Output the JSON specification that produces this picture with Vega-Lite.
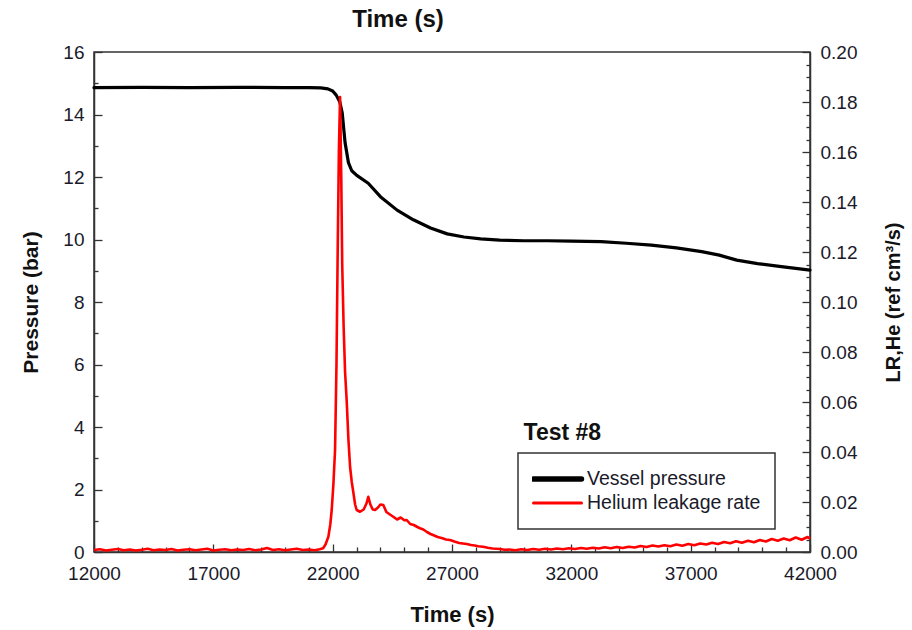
{
  "$schema": "https://vega.github.io/schema/vega-lite/v6.json",
  "width": 716,
  "height": 500,
  "autosize": {"type": "none"},
  "padding": {"left": 94, "top": 52, "right": 102, "bottom": 78},
  "background": "white",
  "config": {
    "font": "Liberation Sans",
    "view": {"stroke": "#333", "strokeWidth": 1.5},
    "legend": {"strokeWidth": 1.5},
    "axis": {
      "grid": false,
      "domainColor": "#333",
      "domainWidth": 1.5,
      "tickColor": "#333",
      "tickWidth": 1.3,
      "labelFont": "Liberation Sans",
      "labelFontSize": 19,
      "labelColor": "#1a1a2a",
      "labelOverlap": false,
      "labelFlush": false,
      "labelBound": false,
      "titleFont": "Liberation Sans",
      "titleFontWeight": "bold",
      "titleColor": "#111",
      "titleFontSize": 22
    }
  },
  "title": {
    "text": "Time (s)",
    "font": "Liberation Sans",
    "fontSize": 24,
    "fontWeight": "bold",
    "color": "#111",
    "anchor": "middle",
    "dx": -54,
    "offset": 11
  },
  "datasets": {
    "pressure": [
      {"t": 12000, "p": 14.86}, {"t": 14000, "p": 14.87}, {"t": 16000, "p": 14.86}, {"t": 18000, "p": 14.87},
      {"t": 20000, "p": 14.86}, {"t": 21000, "p": 14.86}, {"t": 21500, "p": 14.85}, {"t": 21800, "p": 14.82},
      {"t": 22000, "p": 14.75}, {"t": 22150, "p": 14.62}, {"t": 22300, "p": 14.4}, {"t": 22400, "p": 14.05},
      {"t": 22520, "p": 13.1}, {"t": 22660, "p": 12.46}, {"t": 22800, "p": 12.2}, {"t": 23010, "p": 12.05},
      {"t": 23490, "p": 11.8}, {"t": 24000, "p": 11.37}, {"t": 24700, "p": 10.94}, {"t": 25380, "p": 10.63},
      {"t": 26100, "p": 10.37}, {"t": 26800, "p": 10.18}, {"t": 27500, "p": 10.08}, {"t": 28200, "p": 10.02},
      {"t": 29000, "p": 9.98}, {"t": 30000, "p": 9.96}, {"t": 31000, "p": 9.96}, {"t": 32000, "p": 9.95},
      {"t": 33250, "p": 9.93}, {"t": 34300, "p": 9.88}, {"t": 35350, "p": 9.82}, {"t": 36400, "p": 9.73},
      {"t": 37460, "p": 9.61}, {"t": 38200, "p": 9.5}, {"t": 38930, "p": 9.34}, {"t": 39800, "p": 9.23},
      {"t": 40800, "p": 9.13}, {"t": 42000, "p": 9.02}
    ],
    "helium": [
      {"t": 12000, "l": 0.0008}, {"t": 12250, "l": 0.0011}, {"t": 12500, "l": 0.0006}, {"t": 12750, "l": 0.0009},
      {"t": 13000, "l": 0.0012}, {"t": 13250, "l": 0.0007}, {"t": 13500, "l": 0.001}, {"t": 13750, "l": 0.0006},
      {"t": 14000, "l": 0.0009}, {"t": 14250, "l": 0.0013}, {"t": 14500, "l": 0.0007}, {"t": 14750, "l": 0.001},
      {"t": 15000, "l": 0.0008}, {"t": 15250, "l": 0.0012}, {"t": 15500, "l": 0.0006}, {"t": 15750, "l": 0.0009},
      {"t": 16000, "l": 0.0011}, {"t": 16250, "l": 0.0007}, {"t": 16500, "l": 0.001}, {"t": 16750, "l": 0.0013},
      {"t": 17000, "l": 0.0006}, {"t": 17250, "l": 0.0009}, {"t": 17500, "l": 0.0011}, {"t": 17750, "l": 0.0007},
      {"t": 18000, "l": 0.001}, {"t": 18250, "l": 0.0008}, {"t": 18500, "l": 0.0012}, {"t": 18750, "l": 0.0007},
      {"t": 19000, "l": 0.001}, {"t": 19250, "l": 0.0016}, {"t": 19500, "l": 0.0008}, {"t": 19750, "l": 0.0011},
      {"t": 20000, "l": 0.0007}, {"t": 20250, "l": 0.001}, {"t": 20500, "l": 0.0013}, {"t": 20750, "l": 0.0008},
      {"t": 21000, "l": 0.001}, {"t": 21250, "l": 0.0007}, {"t": 21450, "l": 0.0011}, {"t": 21600, "l": 0.0015},
      {"t": 21700, "l": 0.003}, {"t": 21820, "l": 0.0061}, {"t": 21900, "l": 0.011}, {"t": 21960, "l": 0.0168},
      {"t": 22030, "l": 0.027}, {"t": 22100, "l": 0.0408}, {"t": 22160, "l": 0.075}, {"t": 22210, "l": 0.12},
      {"t": 22260, "l": 0.16}, {"t": 22310, "l": 0.182}, {"t": 22360, "l": 0.15}, {"t": 22400, "l": 0.115},
      {"t": 22460, "l": 0.09}, {"t": 22520, "l": 0.072}, {"t": 22590, "l": 0.06}, {"t": 22660, "l": 0.045},
      {"t": 22730, "l": 0.034}, {"t": 22800, "l": 0.028}, {"t": 22870, "l": 0.0236}, {"t": 22940, "l": 0.019},
      {"t": 23007, "l": 0.0168}, {"t": 23145, "l": 0.0161}, {"t": 23300, "l": 0.017}, {"t": 23420, "l": 0.0195},
      {"t": 23493, "l": 0.0221}, {"t": 23580, "l": 0.019}, {"t": 23680, "l": 0.017}, {"t": 23774, "l": 0.0168},
      {"t": 23900, "l": 0.0178}, {"t": 24000, "l": 0.019}, {"t": 24122, "l": 0.0188}, {"t": 24250, "l": 0.016},
      {"t": 24400, "l": 0.015}, {"t": 24541, "l": 0.0141}, {"t": 24700, "l": 0.013}, {"t": 24850, "l": 0.0138},
      {"t": 25000, "l": 0.0127}, {"t": 25102, "l": 0.0128}, {"t": 25250, "l": 0.0112}, {"t": 25400, "l": 0.0108},
      {"t": 25550, "l": 0.01}, {"t": 25659, "l": 0.0095}, {"t": 25800, "l": 0.009}, {"t": 25950, "l": 0.008},
      {"t": 26100, "l": 0.0072}, {"t": 26204, "l": 0.0068}, {"t": 26400, "l": 0.006}, {"t": 26600, "l": 0.0055},
      {"t": 26750, "l": 0.005}, {"t": 26916, "l": 0.0048}, {"t": 27100, "l": 0.0042}, {"t": 27300, "l": 0.0036},
      {"t": 27450, "l": 0.0034}, {"t": 27616, "l": 0.0032}, {"t": 27800, "l": 0.0028}, {"t": 27950, "l": 0.0026},
      {"t": 28100, "l": 0.0023}, {"t": 28299, "l": 0.0021}, {"t": 28500, "l": 0.0017}, {"t": 28700, "l": 0.0014},
      {"t": 28850, "l": 0.0013}, {"t": 29011, "l": 0.0012}, {"t": 29200, "l": 0.0009}, {"t": 29400, "l": 0.001},
      {"t": 29650, "l": 0.0007}, {"t": 29900, "l": 0.0011}, {"t": 30150, "l": 0.0008}, {"t": 30400, "l": 0.0012},
      {"t": 30650, "l": 0.0009}, {"t": 30900, "l": 0.0013}, {"t": 31150, "l": 0.001}, {"t": 31400, "l": 0.0014},
      {"t": 31650, "l": 0.0011}, {"t": 31900, "l": 0.0015}, {"t": 32150, "l": 0.0012}, {"t": 32400, "l": 0.0016},
      {"t": 32650, "l": 0.0013}, {"t": 32900, "l": 0.0017}, {"t": 33150, "l": 0.0014}, {"t": 33400, "l": 0.0019},
      {"t": 33650, "l": 0.0015}, {"t": 33900, "l": 0.002}, {"t": 34150, "l": 0.0016}, {"t": 34400, "l": 0.0021},
      {"t": 34650, "l": 0.0018}, {"t": 34900, "l": 0.0024}, {"t": 35150, "l": 0.002}, {"t": 35400, "l": 0.0026},
      {"t": 35650, "l": 0.0022}, {"t": 35900, "l": 0.0027}, {"t": 36150, "l": 0.0023}, {"t": 36400, "l": 0.003},
      {"t": 36650, "l": 0.0025}, {"t": 36900, "l": 0.0032}, {"t": 37150, "l": 0.0027}, {"t": 37400, "l": 0.0034},
      {"t": 37650, "l": 0.003}, {"t": 37900, "l": 0.0037}, {"t": 38150, "l": 0.0032}, {"t": 38400, "l": 0.004},
      {"t": 38650, "l": 0.0035}, {"t": 38900, "l": 0.0043}, {"t": 39150, "l": 0.0037}, {"t": 39400, "l": 0.0045},
      {"t": 39650, "l": 0.0039}, {"t": 39900, "l": 0.0048}, {"t": 40150, "l": 0.0042}, {"t": 40400, "l": 0.0052},
      {"t": 40650, "l": 0.0045}, {"t": 40900, "l": 0.0054}, {"t": 41150, "l": 0.0047}, {"t": 41400, "l": 0.0058},
      {"t": 41650, "l": 0.0049}, {"t": 41900, "l": 0.006}, {"t": 42000, "l": 0.0053}
    ],
    "note": [{"t": 30000, "p": 3.81, "label": "Test #8"}]
  },
  "layer": [
    {
      "data": {"name": "pressure"},
      "mark": {"type": "line", "strokeWidth": 3.2, "strokeJoin": "round", "strokeCap": "round"},
      "encoding": {
        "x": {
          "field": "t", "type": "quantitative",
          "scale": {"domain": [12000, 42000], "nice": false, "zero": false},
          "axis": {
            "title": "Time (s)",
            "titlePadding": 18,
            "format": "d",
            "labelOverlap": false,
            "values": [12000,13000,14000,15000,16000,17000,18000,19000,20000,21000,22000,23000,24000,25000,26000,27000,28000,29000,30000,31000,32000,33000,34000,35000,36000,37000,38000,39000,40000,41000,42000],
            "labelExpr": "(datum.value - 12000) % 5000 === 0 ? format(datum.value, 'd') : ''",
            "tickSize": {"condition": {"test": "(datum.value - 12000) % 5000 === 0", "value": -8}, "value": -5},
            "labelPadding": 20
          }
        },
        "y": {
          "field": "p", "type": "quantitative",
          "scale": {"domain": [0, 16], "nice": false},
          "axis": {
            "orient": "left",
            "title": "Pressure (bar)",
            "titleFontSize": 21,
            "titlePadding": 21,
            "format": "d",
            "labelOverlap": false,
            "values": [0,0.5,1,1.5,2,2.5,3,3.5,4,4.5,5,5.5,6,6.5,7,7.5,8,8.5,9,9.5,10,10.5,11,11.5,12,12.5,13,13.5,14,14.5,15,15.5,16],
            "labelExpr": "datum.value % 2 === 0 ? format(datum.value, 'd') : ''",
            "tickSize": {"condition": {"test": "datum.value % 2 === 0", "value": -8}, "value": -4},
            "labelPadding": 18
          }
        },
        "color": {
          "datum": "Vessel pressure",
          "type": "nominal",
          "scale": {"domain": ["Vessel pressure", "Helium leakage rate"], "range": ["#000000", "#ff0000"]},
          "legend": {
            "title": null,
            "orient": "none",
            "legendX": 424,
            "legendY": 401,
            "symbolType": "stroke",
            "symbolSize": 2300,
            "symbolStrokeWidth": 3,
            "clipHeight": 24,
            "labelFont": "Liberation Sans",
            "labelFontSize": 19.5,
            "labelColor": "#1a1a2a",
            "labelLimit": 400,
            "labelOffset": 4,
            "rowPadding": 0,
            "padding": 14,
            "strokeColor": "#333",
            "fillColor": "white",
            "cornerRadius": 0,
            "encode": {
              "symbols": {"update": {"strokeWidth": {"signal": "(datum.value === 'Vessel pressure' ? 5.5 : 3)"}, "strokeCap": {"value": "round"}}}
            }
          }
        }
      }
    },
    {
      "data": {"name": "helium"},
      "mark": {"type": "line", "strokeWidth": 2.6, "strokeJoin": "round"},
      "encoding": {
        "x": {
          "field": "t", "type": "quantitative",
          "axis": {
            "title": "Time (s)",
            "titlePadding": 18,
            "format": "d",
            "labelOverlap": false,
            "values": [12000,13000,14000,15000,16000,17000,18000,19000,20000,21000,22000,23000,24000,25000,26000,27000,28000,29000,30000,31000,32000,33000,34000,35000,36000,37000,38000,39000,40000,41000,42000],
            "labelExpr": "(datum.value - 12000) % 5000 === 0 ? format(datum.value, 'd') : ''",
            "tickSize": {"condition": {"test": "(datum.value - 12000) % 5000 === 0", "value": -8}, "value": -5},
            "labelPadding": 20
          }
        },
        "y": {
          "field": "l", "type": "quantitative",
          "scale": {"domain": [0, 0.2], "nice": false},
          "axis": {
            "orient": "right",
            "title": "LR,He (ref cm³/s)",
            "titleFontSize": 20,
            "titleAngle": -90,
            "titlePadding": 47,
            "labelOverlap": false,
            "values": [0,0.005,0.01,0.015,0.02,0.025,0.03,0.035,0.04,0.045,0.05,0.055,0.06,0.065,0.07,0.075,0.08,0.085,0.09,0.095,0.1,0.105,0.11,0.115,0.12,0.125,0.13,0.135,0.14,0.145,0.15,0.155,0.16,0.165,0.17,0.175,0.18,0.185,0.19,0.195,0.2],
            "labelExpr": "round(datum.value * 1000) % 20 === 0 ? format(datum.value, '.2f') : ''",
            "tickSize": {"condition": {"test": "round(datum.value * 1000) % 20 === 0", "value": -8}, "value": -4},
            "labelPadding": 18
          }
        },
        "color": {"datum": "Helium leakage rate", "type": "nominal"}
      }
    },
    {
      "data": {"name": "note"},
      "mark": {"type": "text", "align": "left", "baseline": "middle", "font": "Liberation Sans", "fontSize": 23, "fontWeight": "bold", "color": "#111"},
      "encoding": {
        "x": {
          "field": "t", "type": "quantitative",
          "axis": {
            "title": "Time (s)",
            "titlePadding": 18,
            "format": "d",
            "labelOverlap": false,
            "values": [12000,13000,14000,15000,16000,17000,18000,19000,20000,21000,22000,23000,24000,25000,26000,27000,28000,29000,30000,31000,32000,33000,34000,35000,36000,37000,38000,39000,40000,41000,42000],
            "labelExpr": "(datum.value - 12000) % 5000 === 0 ? format(datum.value, 'd') : ''",
            "tickSize": {"condition": {"test": "(datum.value - 12000) % 5000 === 0", "value": -8}, "value": -5},
            "labelPadding": 20
          }
        },
        "y": {"field": "p", "type": "quantitative", "scale": {"domain": [0, 16], "nice": false}, "axis": null},
        "text": {"field": "label"}
      }
    }
  ],
  "resolve": {"scale": {"y": "independent"}}
}
